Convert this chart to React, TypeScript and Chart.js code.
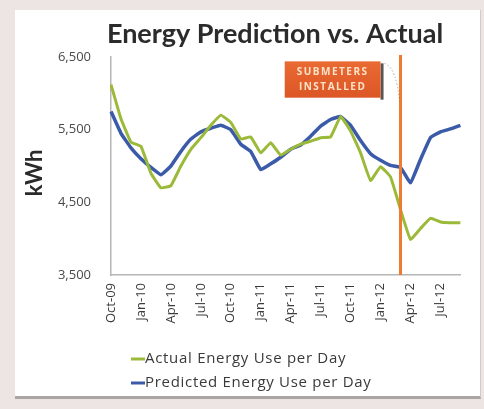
import { useEffect, useRef } from 'react';
import { Chart, registerables } from 'chart.js';

Chart.register(...registerables);

const months = [
  'Oct-09', 'Nov-09', 'Dec-09', 'Jan-10', 'Feb-10', 'Mar-10', 'Apr-10', 'May-10', 'Jun-10',
  'Jul-10', 'Aug-10', 'Sep-10', 'Oct-10', 'Nov-10', 'Dec-10', 'Jan-11', 'Feb-11', 'Mar-11',
  'Apr-11', 'May-11', 'Jun-11', 'Jul-11', 'Aug-11', 'Sep-11', 'Oct-11', 'Nov-11', 'Dec-11',
  'Jan-12', 'Feb-12', 'Mar-12', 'Apr-12', 'May-12', 'Jun-12', 'Jul-12', 'Aug-12', 'Sep-12',
];

const actualKWh = [
  6120, 5650, 5330, 5270, 4900, 4700, 4730, 5000, 5230, 5390, 5560, 5700,
  5600, 5370, 5400, 5180, 5320, 5150, 5230, 5300, 5340, 5390, 5400, 5680,
  5480, 5180, 4800, 4990, 4850, 4400, 3990, 4140, 4280, 4230, 4220, 4220,
];

const predictedKWh = [
  5750, 5450, 5250, 5100, 4980, 4880, 5000, 5200, 5370, 5470, 5520, 5560,
  5500, 5300, 5200, 4950, 5030, 5120, 5230, 5290, 5410, 5550, 5640, 5680,
  5560, 5350, 5170, 5080, 5010, 4980, 4770, 5090, 5390, 5470, 5510, 5560,
];

const seriesNames = ['Actual Energy Use per Day', 'Predicted Energy Use per Day'];
const seriesColors = ['#9cba3a', '#3b5ba9'];
const titleText = 'Energy Prediction vs. Actual';
const yAxisTitle = 'kWh';
const yMin = 3500;
const yMax = 6500;
const yStep = 1000;
const noteLines = ['SUBMETERS', 'INSTALLED'];
const submeterIndex = 29;
const noteBoxRange = { fromIndex: 17.4, toIndex: 27.0, top: 6440, bottom: 5940 };

const decor = {
  id: 'decor',
  afterDatasetsDraw(chart: any) {
    const { ctx, chartArea } = chart;
    const x = chart.scales.x;
    const y = chart.scales.y;
    ctx.save();
    // vertical marker
    const lx = x.getPixelForValue(submeterIndex);
    ctx.strokeStyle = '#ee7b2f';
    ctx.lineWidth = 3;
    ctx.beginPath();
    ctx.moveTo(lx, chartArea.top - 2);
    ctx.lineTo(lx, chartArea.bottom);
    ctx.stroke();

    // note box
    const bx0 = x.getPixelForValue(noteBoxRange.fromIndex);
    const bx1 = x.getPixelForValue(noteBoxRange.toIndex);
    const by0 = y.getPixelForValue(noteBoxRange.top);
    const by1 = y.getPixelForValue(noteBoxRange.bottom);
    ctx.fillStyle = '#5a5552';
    ctx.fillRect(bx1, by0 + 2, 3, by1 - by0);
    const g = ctx.createLinearGradient(0, by0, 0, by1);
    g.addColorStop(0, '#ea6a33');
    g.addColorStop(1, '#dc5626');
    ctx.fillStyle = g;
    ctx.fillRect(bx0, by0, bx1 - bx0, by1 - by0);

    // dotted connector
    ctx.strokeStyle = 'rgba(120,120,120,0.6)';
    ctx.lineWidth = 1;
    ctx.setLineDash([1.5, 2]);
    ctx.beginPath();
    ctx.moveTo(bx1 + 4, by0 + 2);
    ctx.quadraticCurveTo(lx - 4, by0 + 6, lx - 1, by1 + 4);
    ctx.stroke();
    ctx.setLineDash([]);

    ctx.fillStyle = '#fbe3c8';
    ctx.font = 'bold 10px "Open Sans"';
    (ctx as any).letterSpacing = '1.5px';
    ctx.textAlign = 'center';
    ctx.textBaseline = 'middle';
    const cx = (bx0 + bx1) / 2;
    const h = by1 - by0;
    ctx.fillText(noteLines[0], cx, by0 + h * 0.3);
    ctx.fillText(noteLines[1], cx, by0 + h * 0.72);
    (ctx as any).letterSpacing = '0px';
    ctx.restore();
  },
  afterDraw(chart: any) {
    const { ctx, chartArea } = chart;
    ctx.save();
    // title
    ctx.fillStyle = '#2b2b2b';
    ctx.font = 'bold 27px Lato';
    ctx.textAlign = 'center';
    ctx.textBaseline = 'alphabetic';
    ctx.fillText(titleText, 275, 43);

    // y axis title
    ctx.save();
    ctx.translate(35, 173);
    ctx.rotate(-Math.PI / 2);
    ctx.font = 'bold 22px Lato';
    ctx.textAlign = 'center';
    ctx.textBaseline = 'middle';
    ctx.fillStyle = '#2b2b2b';
    ctx.fillText(yAxisTitle, 0, 0);
    ctx.restore();

    // legend
    const lx = chartArea.left + 20;
    const rows = [359, 383];
    ctx.font = '15px "Open Sans"';
    (ctx as any).letterSpacing = '0.7px';
    ctx.textAlign = 'left';
    ctx.textBaseline = 'middle';
    seriesNames.forEach((name, i) => {
      ctx.strokeStyle = seriesColors[i];
      ctx.lineWidth = 3;
      ctx.beginPath();
      ctx.moveTo(lx, rows[i]);
      ctx.lineTo(lx + 14, rows[i]);
      ctx.stroke();
      ctx.fillStyle = '#3a3a3a';
      ctx.fillText(name, lx + 14, rows[i]);
    });
    (ctx as any).letterSpacing = '0px';
    ctx.restore();
  },
};

export default function App() {
  const ref = useRef<HTMLCanvasElement | null>(null);
  useEffect(() => {
    if (!ref.current) return;
    const chart = new Chart(ref.current, {
      type: 'line',
      data: {
        labels: months,
        datasets: [
          {
            label: seriesNames[0],
            data: actualKWh,
            borderColor: seriesColors[0],
            backgroundColor: seriesColors[0],
            borderWidth: 3,
            pointRadius: 0,
            tension: 0.1,
          },
          {
            label: seriesNames[1],
            data: predictedKWh,
            borderColor: seriesColors[1],
            backgroundColor: seriesColors[1],
            borderWidth: 3.5,
            pointRadius: 0,
            tension: 0.1,
          },
        ],
      },
      options: {
        responsive: false,
        animation: false,
        layout: { padding: { top: 57, right: 22, bottom: 0, left: 0 } },
        plugins: {
          legend: { display: false },
          title: { display: false },
          tooltip: { enabled: false },
        },
        scales: {
          x: {
            type: 'category',
            offset: false,
            grid: { display: false, drawTicks: false },
            border: { display: true, color: '#b5b5b5', width: 1.5 },
            ticks: {
              autoSkip: false,
              minRotation: 90,
              maxRotation: 90,
              padding: 8,
              color: '#3a3a3a',
              font: { family: 'Open Sans', size: 13 },
              callback: (_v: any, i: number) => (i % 3 === 0 ? months[i] : ''),
            },
            afterFit: (s: any) => {
              s.height = 134;
            },
          },
          y: {
            min: yMin,
            max: yMax,
            grid: { display: false, drawTicks: false },
            border: { display: true, color: '#b5b5b5', width: 1.5 },
            ticks: {
              stepSize: yStep,
              padding: 20,
              color: '#4a4a4a',
              font: { family: 'Open Sans', size: 13 },
              callback: (v: any) => Number(v).toLocaleString('en-US'),
            },
            afterFit: (s: any) => {
              s.width = 111;
            },
          },
        },
      },
      plugins: [decor],
    });
    return () => chart.destroy();
  }, []);

  return (
    <div style={{ position: 'fixed', left: 0, top: 0, width: 484, height: 409, background: '#ece5e3', overflow: 'hidden' }}>
      <div
        style={{
          position: 'absolute',
          left: 15,
          top: 10,
          width: 465,
          height: 386,
          background: '#ffffff',
          borderBottom: '3px solid #a9a6a5',
          borderRight: '1px solid #d0cccb',
        }}
      />
      <canvas ref={ref} width={484} height={409} style={{ position: 'absolute', left: 0, top: 0, display: 'block' }} />
    </div>
  );
}
